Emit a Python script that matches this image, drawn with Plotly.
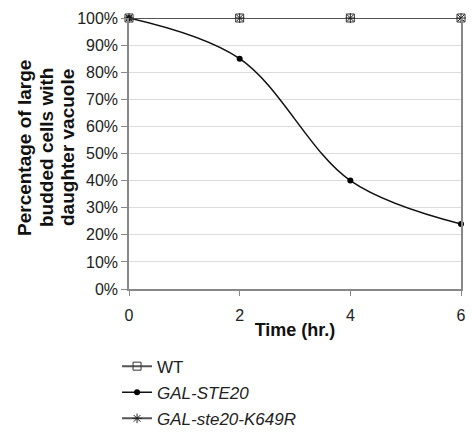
import plotly.graph_objects as go

time_hr = [0, 2, 4, 6]
wt = [1.00, 1.00, 1.00, 1.00]
gal_ste20 = [1.00, 0.85, 0.40, 0.24]
gal_k649r = [1.00, 1.00, 1.00, 1.00]
x_ticks = [0, 2, 4, 6]
y_ticks = [0, 0.1, 0.2, 0.3, 0.4, 0.5, 0.6, 0.7, 0.8, 0.9, 1.0]
y_title_lines = ["Percentage of large", "budded cells with", "daughter vacuole"]

FONT = "Liberation Sans, Arial, sans-serif"

fig = go.Figure()
fig.add_trace(go.Scatter(
    x=time_hr, y=wt, name="WT", mode="lines+markers",
    line=dict(color="#555555", width=2),
    marker=dict(symbol="square-open", size=8, color="#333333", line=dict(width=1)),
    cliponaxis=False, legendgroup="a"))
fig.add_trace(go.Scatter(
    x=time_hr, y=gal_ste20, name="<i>GAL-STE20</i>", mode="lines+markers",
    line=dict(color="#111111", width=1.5, shape="spline", smoothing=1.0),
    marker=dict(symbol="circle", size=6, color="#000000"),
    cliponaxis=False, legendgroup="b"))
fig.add_trace(go.Scatter(
    x=time_hr, y=gal_k649r, name="<i>GAL-ste20-K649R</i>", mode="lines+markers",
    line=dict(color="#555555", width=2),
    marker=dict(symbol="asterisk-open", size=8, color="#222222", line=dict(width=1, color="#222222")),
    cliponaxis=False, legendgroup="c"))

# y-axis title as three rotated lines
title_x_px = [24, 46, 67]
for line, px in zip(y_title_lines, title_x_px):
    fig.add_annotation(
        text=f"<b>{line}</b>", textangle=-90, showarrow=False,
        xref="paper", yref="paper", x=(px - 129) / 332, y=(289 - 148) / 271,
        xanchor="center", yanchor="middle",
        font=dict(size=19, color="#111111", family=FONT))

fig.update_layout(
    width=472, height=436,
    margin=dict(l=129, r=11, t=18, b=147, autoexpand=False),
    paper_bgcolor="white", plot_bgcolor="white",
    font=dict(family=FONT, color="#222222", size=16),
    showlegend=True,
    legend=dict(x=-0.036, xanchor="left", y=-0.22, yanchor="top",
                font=dict(size=17, color="#222222"),
                tracegroupgap=1, bgcolor="rgba(0,0,0,0)"),
    xaxis=dict(range=[0, 6], tickvals=x_ticks, ticktext=[str(v) for v in x_ticks],
               showgrid=False, zeroline=False, showline=True, linecolor="#888888", linewidth=1.5,
               ticks="outside", ticklen=5, tickcolor="#888888", ticklabelstandoff=6,
               tickfont=dict(size=16, color="#222222"),
               title=dict(text="<b>Time (hr.)</b>", font=dict(size=18, color="#111111"), standoff=0)),
    yaxis=dict(range=[0, 1], tickvals=y_ticks, tickformat=".0%",
               showgrid=True, gridcolor="#dcdcdc", gridwidth=1, zeroline=False,
               showline=True, linecolor="#888888", linewidth=1.5, mirror=True,
               ticks="outside", ticklen=6, tickcolor="#888888",
               tickfont=dict(size=16, color="#222222")),
)

fig.write_html("out.html", config={"displayModeBar": False},
               post_script="document.body.style.margin='0';document.body.style.padding='0';")
